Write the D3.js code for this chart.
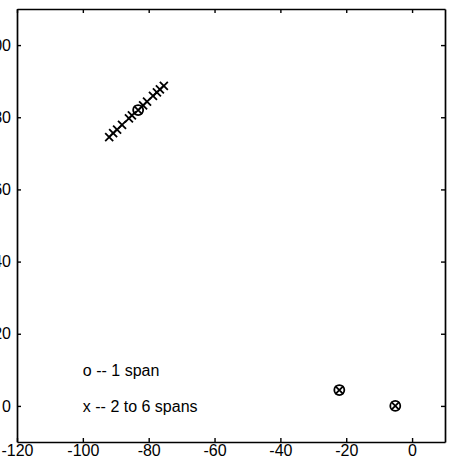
<!DOCTYPE html>
<html>
<head>
<meta charset="utf-8">
<script src="https://cdn.jsdelivr.net/npm/d3@7"></script>
<style>
  body { margin: 0; background: #fff; }
  svg { display: block; }
  text { font-family: "Liberation Sans", Arial, sans-serif; font-size: 16px; fill: #000; }
</style>
</head>
<body>
<svg id="chart" width="452" height="469"></svg>
<script>
var x_ticks = [-120, -100, -80, -60, -40, -20, 0]
var y_ticks = [0, 20, 40, 60, 80, 100]
var x_domain = [-120, 10]
var y_domain = [-10, 110]

// "o" markers -- 1 span
var one_span = [
  {x: -83.2, y: 82.0},
  {x: -22.1, y: 4.4},
  {x: -5.1, y: 0.0}
]
// "x" markers -- 2 to 6 spans
var multi_span = [
  {x: -92.0, y: 74.5}, {x: -90.8, y: 75.6}, {x: -89.6, y: 76.6},
  {x: -88.1, y: 77.9}, {x: -86.0, y: 79.7}, {x: -85.1, y: 80.5},
  {x: -83.2, y: 82.0}, {x: -81.7, y: 83.3}, {x: -80.5, y: 84.3},
  {x: -78.7, y: 85.9}, {x: -77.5, y: 86.9}, {x: -76.6, y: 87.7},
  {x: -75.4, y: 88.7},
  {x: -22.1, y: 4.4}, {x: -5.1, y: 0.0}
]
var legend_lines = ['o -- 1 span', 'x -- 2 to 6 spans']

var plot = {left: 17, right: 445, top: 9, bottom: 442}
var tick_len = 4

var svg = d3.select('#chart')
var x = d3.scaleLinear().domain(x_domain).range([plot.left, plot.right])
var y = d3.scaleLinear().domain(y_domain).range([plot.bottom, plot.top])

// plain hyphen minus like matlab, not the unicode one d3 uses
var fmt = function(d) { return String(d) }

// box with inward ticks on all four sides (matlab "box on")
var axes = [
  {axis: d3.axisBottom(x), t: 'translate(0,' + plot.bottom + ')', labels: true},
  {axis: d3.axisTop(x), t: 'translate(0,' + plot.top + ')', labels: false},
  {axis: d3.axisLeft(y), t: 'translate(' + plot.left + ',0)', labels: true},
  {axis: d3.axisRight(y), t: 'translate(' + plot.right + ',0)', labels: false}
]
axes.forEach(function(a, i) {
  var is_x = i < 2
  a.axis.tickValues(is_x ? x_ticks : y_ticks)
        .tickSizeInner(-tick_len).tickSizeOuter(0).tickPadding(is_x ? 3 : 6)
        .tickFormat(a.labels ? fmt : '')
  var g = svg.append('g').attr('transform', a.t).call(a.axis)
  g.select('.domain').attr('stroke', '#000').attr('stroke-width', 1.7)
  g.selectAll('.tick line').attr('stroke', '#000').attr('stroke-width', 1.4)
  g.selectAll('.tick text')
    .attr('font-family', null).attr('font-size', null)
    .style('fill', '#000')
})

var marks = svg.append('g').attr('class', 'marks')

marks.selectAll('path.xmark')
  .data(multi_span)
  .enter().append('path')
    .attr('class', 'xmark')
    .attr('d', function(d) {
      var cx = x(d.x), cy = y(d.y), s = 4
      return 'M' + (cx - s) + ',' + (cy - s) + 'L' + (cx + s) + ',' + (cy + s) +
             'M' + (cx - s) + ',' + (cy + s) + 'L' + (cx + s) + ',' + (cy - s)
    })
    .attr('stroke', '#000')
    .attr('stroke-width', 1.8)
    .attr('fill', 'none')

marks.selectAll('circle.omark')
  .data(one_span)
  .enter().append('circle')
    .attr('class', 'omark')
    .attr('cx', function(d) { return x(d.x) })
    .attr('cy', function(d) { return y(d.y) })
    .attr('r', 5)
    .attr('stroke', '#000')
    .attr('stroke-width', 1.8)
    .attr('fill', 'none')

svg.append('g').attr('class', 'legend')
  .selectAll('text')
  .data(legend_lines)
  .enter().append('text')
    .attr('x', x(-100))
    .attr('y', function(d, i) { return y(0) - (1 - i) * 36 })
    .attr('dy', '0.35em')
    .text(function(d) { return d })
</script>
</body>
</html>
